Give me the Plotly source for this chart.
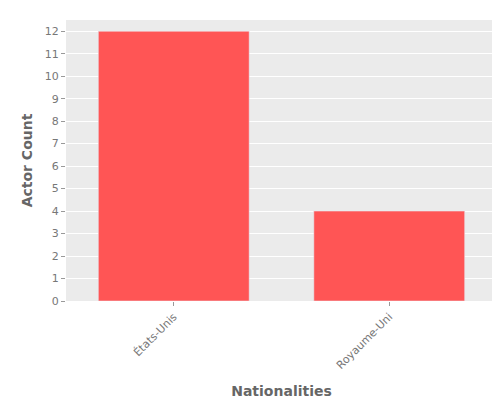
import plotly.graph_objects as go

nationalities = ["États-Unis", "Royaume-Uni"]
actor_counts = [12, 4]

fig = go.Figure(go.Bar(x=nationalities, y=actor_counts, marker_color="#FF5555"))

fig.update_layout(
    width=500, height=400,
    margin=dict(l=58, r=11, t=12, b=107),
    plot_bgcolor="#EBEBEB", paper_bgcolor="white",
    font=dict(family="DejaVu Sans", size=11, color="#777777"),
    bargap=0.3,
    showlegend=False,
)
fig.update_xaxes(
    title=dict(text="<b>Nationalities</b>", font=dict(size=14, color="#666666")),
    tickangle=-45, ticks="outside", ticklen=4, tickcolor="#999999",
    showgrid=False, automargin=False,
)
fig.update_yaxes(
    title=dict(text="<b>Actor Count</b>", font=dict(size=14, color="#666666"), standoff=8),
    range=[0, 12.5], dtick=1, gridcolor="white", zeroline=False,
    ticks="outside", ticklen=4, tickcolor="#999999", automargin=False,
)

fig.write_html("out.html")
